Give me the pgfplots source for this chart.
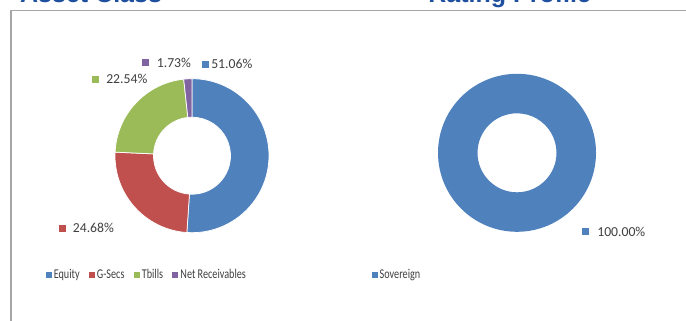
\documentclass[border=0pt]{standalone}
\usepackage{pgfplots}
\pgfplotsset{compat=1.18}
\usepackage{pgfplotstable}
\usepackage{fontspec}
\setmainfont{Carlito}
\newfontfamily\legfont[FakeStretch=0.76]{Carlito}
\newfontfamily\titlefont{Liberation Sans}
\usetikzlibrary{calc}
\definecolor{equity}{HTML}{4F81BD}
\definecolor{gsecs}{HTML}{C0504D}
\definecolor{tbills}{HTML}{9BBB59}
\definecolor{netrec}{HTML}{8064A2}
\definecolor{sov}{HTML}{4F81BD}
\definecolor{txt}{HTML}{404040}
\definecolor{framegray}{HTML}{A6A6A6}
\definecolor{titleblue}{RGB}{31,80,160}

\pgfplotstableread{
label value
Equity 51.06
G-Secs 24.68
Tbills 22.54
NetRec 1.73
}\assetdata
\pgfplotstableread{
label value
Sovereign 100.00
}\ratingdata

\newcommand\legfontsz{\legfont\fontsize{13.4bp}{16bp}\selectfont}
\newcommand\labfont{\fontsize{13.7bp}{16bp}\selectfont}
% #1 style, #2 start angle, #3 end angle, #4 outer radius, #5 inner radius
\newcommand\donutslice[5]{%
  \fill[#1] ($(axis cs:0,0)+(#2:#4)$) arc[start angle=#2,end angle=#3,radius=#4]
    -- ($(axis cs:0,0)+(#3:#5)$) arc[start angle=#3,end angle=#2,radius=#5] -- cycle;}
% #1 x, #2 baseline y, #3 colour, #4 gap, #5 text
\newcommand\dlabel[5]{%
  \node[anchor=base west, inner sep=0pt, text=txt, font=\labfont] at (axis cs:#1,#2)
    {\textcolor{#3}{\rule[0.8bp]{7bp}{7bp}}\hspace{#4}#5};}

\pgfplotsset{
  donut/.style={x=1bp, y=1bp, xmin=-80, xmax=80, ymin=-80, ymax=80,
    hide axis, clip=false, anchor=origin,
    legend image code/.code={\fill[##1, draw=none] (0bp,-0.2bp) rectangle (6bp,5.8bp);},
    legend style={draw=none, fill=none, inner sep=0pt, outer sep=0pt,
      font=\legfontsz, text=txt, anchor=west,
      nodes={inner xsep=0pt, inner ysep=0pt, font=\legfontsz},
      cells={anchor=base west},
      /tikz/every odd column/.append style={column sep=2bp},
      /tikz/every even column/.append style={column sep=9.3bp}}},
}

\begin{document}
\begin{tikzpicture}[x=1bp, y=1bp]
\useasboundingbox (0,0) rectangle (686,320);
\clip (0,0) rectangle (686,320);
\fill[white] (0,0) rectangle (686,320);
% titles (cut by the top edge)
\node[anchor=base west, inner sep=0pt, text=titleblue,
  font=\titlefont\bfseries\fontsize{25bp}{30bp}\selectfont] at (20,317.5) {Asset Class};
\node[anchor=base west, inner sep=0pt, text=titleblue,
  font=\titlefont\bfseries\fontsize{25bp}{30bp}\selectfont] at (428.2,317.5) {Rating Profile};
% frame
\draw[framegray, line width=1.7bp] (11,-2) -- (11,309.5) -- (690,309.5);

% angles
\pgfplotstablegetelem{0}{value}\of\assetdata
\pgfmathsetmacro\aA{90}
\pgfmathsetmacro\aB{\aA-3.6*\pgfplotsretval}
\pgfplotstablegetelem{1}{value}\of\assetdata
\pgfmathsetmacro\aC{\aB-3.6*\pgfplotsretval}
\pgfplotstablegetelem{2}{value}\of\assetdata
\pgfmathsetmacro\aD{\aC-3.6*\pgfplotsretval}
\pgfplotstablegetelem{3}{value}\of\assetdata
\pgfmathsetmacro\aE{\aD-3.6*\pgfplotsretval}
\pgfplotstablegetelem{0}{value}\of\ratingdata
\pgfmathsetmacro\rA{90}
\pgfmathsetmacro\rB{\rA-3.6*\pgfplotsretval}

\begin{axis}[donut, at={(192bp,164.3bp)},
  legend columns=4, legend style={at={(-0.414,-0.241)}}]
  \addlegendimage{fill=equity}\addlegendentry{{\legfontsz Equity}}
  \addlegendimage{fill=gsecs}\addlegendentry{{\legfontsz G-Secs}}
  \addlegendimage{fill=tbills}\addlegendentry{{\legfontsz Tbills}}
  \addlegendimage{fill=netrec}\addlegendentry{{\legfontsz Net Receivables}}
  \donutslice{equity, draw=white, line width=0.75bp}{\aA}{\aB}{77bp}{38.5bp}
  \donutslice{gsecs, draw=white, line width=0.75bp}{\aB}{\aC}{77bp}{38.5bp}
  \donutslice{tbills, draw=white, line width=0.75bp}{\aC}{\aD}{77bp}{38.5bp}
  \donutslice{netrec, draw=white, line width=0.75bp}{\aD}{\aE}{77bp}{38.5bp}
  \dlabel{-50.3}{88.6}{netrec}{8bp}{1.73\%}
  \dlabel{9.7}{86.9}{equity}{2.4bp}{51.06\%}
  \dlabel{-100.3}{72.4}{tbills}{7.4bp}{22.54\%}
  \dlabel{-133.7}{-76.6}{gsecs}{7.4bp}{24.68\%}
\end{axis}

\begin{axis}[donut, at={(517bp,167.2bp)},
  legend columns=1, legend style={at={(-0.408,-0.259)}}]
  \addlegendimage{fill=sov}\addlegendentry{{\legfontsz Sovereign}}
  \donutslice{sov}{\rA}{\rB}{79bp}{39.5bp}
  \dlabel{64.7}{-83.3}{sov}{8.4bp}{100.00\%}
\end{axis}
\end{tikzpicture}
\end{document}
